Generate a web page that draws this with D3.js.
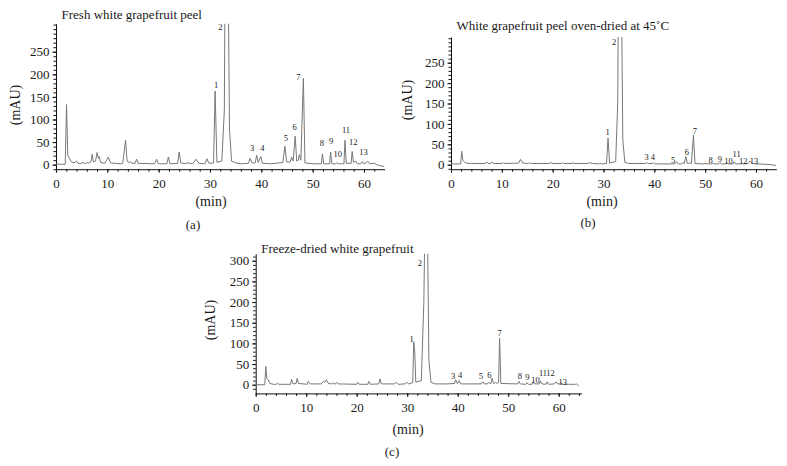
<!DOCTYPE html>
<html>
<head>
<meta charset="utf-8">
<script src="https://cdn.jsdelivr.net/npm/d3@7"></script>
<style>
  body { margin: 0; background: #fff; }
  svg text { font-family: "Liberation Serif", "DejaVu Serif", serif; fill: #1a1a1a; }
  .domain { stroke: #111; }
  .tick line { stroke: #111; }
</style>
</head>
<body>
<div id="chart"></div>
<script>
// chromatogram traces: [retention time (min), absorbance (mAU)]
// peak 2 runs off the top of every panel, so its apex is given as off-scale
var freshTrace = [
  [0,1],[1.8,1],[2.05,133],[2.3,20],[2.6,14],[3.0,6],[3.5,4],[4.0,8],[4.3,3],[5.0,3],[5.3,5],[5.6,2],
  [6.1,5],[6.4,3],[6.8,6],[7.05,23],[7.3,6],[7.7,8],[8.0,27],[8.25,14],[8.4,18],[8.7,5],[9.5,3],
  [10.2,17],[10.6,4],[12.5,2],[13.0,3],[13.55,54],[13.85,8],[14.3,4],[14.5,7],[14.8,3],[15.4,3],
  [15.7,12],[16.0,3],[19.2,2],[19.6,12],[19.9,2],[21.6,2],[21.9,17],[22.2,2],[23.7,3],[24.0,28],
  [24.3,4],[25.3,2],[25.5,4],[26.6,2],[27.3,12],[27.8,3],[29.0,2],[29.4,13],[29.8,3],[30.7,4],
  [31.0,163],[31.35,5],[32.3,8],[32.8,120],[32.9,340],[33.6,340],[33.8,80],[34.2,8],[35,4],
  [36,2],[37.5,3],[37.8,14],[38.2,4],[38.8,4],[39.1,21],[39.4,5],[39.9,18],[40.2,3],[42,2],
  [44.2,5],[44.6,41],[44.95,6],[45.6,6],[45.9,17],[46.2,8],[46.6,63],[46.9,8],[47.2,10],[47.4,22],
  [47.7,10],[48.2,191],[48.5,4],[50,2],[51.7,2],[51.9,24],[52.15,2],[53.3,2],[53.5,28],[53.75,2],
  [54.5,2],[54.7,4],[55,2],[56.1,2],[56.3,54],[56.55,3],[57.5,3],[57.7,29],[57.95,5],[58.4,8],
  [58.7,2],[59.4,2],[59.7,7],[60.0,2],[60.4,4],[60.7,8],[61.1,2],[62.1,3],[62.5,0],[63,-2],[64,-4]
];
var ovenTrace = [
  [0,2],[1.9,2],[2.1,33],[2.35,10],[2.6,7],[3.0,4],[4,3],[6.8,3],[7.0,7],[7.3,3],[7.8,3],[8.0,7],
  [8.3,3],[10.1,3],[10.3,5],[10.6,3],[13.3,4],[13.7,13],[14.1,4],[15.3,3],[15.5,5],[15.8,3],
  [19.4,3],[19.6,6],[19.9,3],[21.7,3],[21.9,5],[22.2,3],[23.8,3],[24.0,5],[24.3,3],[26.8,3],
  [27.3,5],[27.8,3],[29.1,2],[29.3,4],[29.6,2],[30.6,3],[30.9,65],[31.2,4],[32.4,8],[32.8,150],
  [32.9,340],[33.6,340],[33.8,60],[34.2,6],[35,3],[38.3,3],[38.5,5],[38.8,3],[39.6,3],[39.8,5],
  [40.1,2],[43.9,2],[44.4,7],[44.7,2],[45.4,2],[45.6,5],[45.9,3],[46.2,20],[46.5,3],[46.8,3],
  [47.0,5],[47.3,3],[47.7,73],[48.0,3],[49.5,2],[50,3],[50.5,2],[51.3,2],[51.5,4],[51.8,2],
  [52.7,2],[52.9,5],[53.2,2],[54.0,2],[54.2,5],[54.5,2],[55.5,2],[55.7,7],[56.0,2],[57.0,2],
  [57.2,4],[57.5,2],[58.4,3],[58.8,9],[59.3,3],[60,2],[62,1],[63,0],[64,-2]
];
var freezeTrace = [
  [0,0],[1.8,0],[2.0,44],[2.2,15],[2.5,12],[2.8,3],[3.5,1],[4.1,1],[4.3,4],[4.6,1],[6.9,1],
  [7.1,13],[7.4,2],[8.0,3],[8.2,15],[8.5,3],[10.2,1],[10.4,8],[10.8,2],[13.0,2],[13.4,8],[13.7,6],
  [14.0,12],[14.4,3],[15.0,2],[15.2,4],[15.5,2],[15.8,2],[16.0,6],[16.3,2],[20.0,1],[20.2,6],
  [20.5,1],[22.2,1],[22.4,8],[22.7,1],[24.4,2],[24.6,14],[24.9,2],[27.5,2],[27.8,6],[28.2,1],
  [29.6,2],[29.9,6],[30.3,2],[31.1,5],[31.3,104],[31.5,80],[31.7,6],[32.8,10],[33.3,200],
  [33.45,340],[34.05,340],[34.3,60],[34.7,6],[35.5,2],[38,2],[39.4,3],[39.6,12],[39.9,3],[40.1,4],
  [40.3,10],[40.6,2],[44.7,2],[45.0,7],[45.3,2],[45.9,2],[46.1,6],[46.4,3],[46.6,3],[46.8,16],
  [47.1,3],[47.3,3],[47.5,6],[47.8,3],[48.1,5],[48.3,112],[48.55,3],[51.9,2],[52.1,8],[52.4,2],
  [53.5,1],[53.7,5],[54.0,1],[54.7,1],[54.9,7],[55.2,2],[56.2,2],[56.4,9],[56.7,2],[57.5,1],
  [57.7,7],[58.0,1],[59.2,2],[59.5,7],[59.8,2],[60.2,2],[60.4,5],[60.7,1],[62,1],[63.3,1],
  [63.5,2],[64,-3]
];

// peak numbers: [label, time (min), height of label (mAU)]
var freshPeaks = [["1",31.2,176],["2",32.0,305],["3",38.2,37],["4",40.2,37],["5",44.8,60],["6",46.5,84],
  ["7",47.2,193],["8",51.8,47],["9",53.6,53],["10",54.9,24],["11",56.5,77],["12",57.9,50],["13",59.9,29]];
var ovenPeaks = [["1",30.8,80],["2",32.1,301],["3",38.5,20],["4",39.7,20],["5",43.7,11],["6",46.4,31],
  ["7",48.0,83],["8",51.1,11],["9",52.9,13],["10",54.6,10],["11",56.2,26],["12",57.5,10],["13",59.6,10]];
var freezePeaks = [["1",30.9,110],["2",32.5,295],["3",39.1,22],["4",40.5,23],["5",44.6,20],["6",46.3,23],
  ["7",48.3,124],["8",52.3,22],["9",53.8,19],["10",55.4,11],["11",56.9,29],["12",58.4,29],["13",60.8,7]];

var xTicks = [0, 10, 20, 30, 40, 50, 60];
var freshYTicks = [0, 50, 100, 150, 200, 250];
var ovenYTicks = [0, 50, 100, 150, 200, 250];
var freezeYTicks = [0, 50, 100, 150, 200, 250, 300];

var titles = ["Fresh white grapefruit peel", "White grapefruit peel oven-dried at 45\u02daC", "Freeze-dried white grapefruit"];
var panelTags = ["(a)", "(b)", "(c)"];

var svg = d3.select('#chart').append('svg')
  .attr('width', 787)
  .attr('height', 466);

// panel frames: where each plot sits on the page
var panels = [
  {left: 56, right: 384.5, xMax: 64, top: 23.7, bottom: 169.2, yMin: -10, yMax: 312,
   trace: freshTrace, peaks: freshPeaks, yTicks: freshYTicks, titleY: 18.5, unitX: 15, unitY: 105,
   minX: 211, minY: 206, tagX: 193, tagY: 229},
  {left: 451, right: 776.3, xMax: 64, top: 37, bottom: 169.2, yMin: -11, yMax: 313,
   trace: ovenTrace, peaks: ovenPeaks, yTicks: ovenYTicks, titleY: 29.5, unitX: 407, unitY: 100,
   minX: 602, minY: 206, tagX: 588, tagY: 227},
  {left: 255.7, right: 581.4, xMax: 64.5, top: 253.7, bottom: 393.4, yMin: -21, yMax: 317,
   trace: freezeTrace, peaks: freezePeaks, yTicks: freezeYTicks, titleY: 252.5, unitX: 210, unitY: 320,
   minX: 408, minY: 434, tagX: 392, tagY: 456}
];

panels.forEach(function(p, i) {
  var x = d3.scaleLinear().domain([0, p.xMax]).range([p.left, p.right]);
  var y = d3.scaleLinear().domain([p.yMin, p.yMax]).range([p.bottom, p.top]);
  var g = svg.append('g');

  g.append('clipPath').attr('id', 'clip' + i)
    .append('rect')
    .attr('x', p.left).attr('y', p.top)
    .attr('width', p.right - p.left).attr('height', p.bottom - p.top);

  // minor ticks first, then the labelled axis on top
  g.append('g')
    .attr('transform', `translate(0, ${p.bottom})`)
    .call(d3.axisBottom(x).tickValues(d3.range(0, p.xMax, 2)).tickSize(2.5).tickFormat(''))
    .call(s => s.select('.domain').remove());
  g.append('g')
    .attr('transform', `translate(${p.left}, 0)`)
    .call(d3.axisLeft(y).tickValues(d3.range(-10, p.yMax, 10)).tickSize(2.5).tickFormat(''))
    .call(s => s.select('.domain').remove());

  g.append('g')
    .attr('transform', `translate(0, ${p.bottom})`)
    .call(d3.axisBottom(x).tickValues(xTicks).tickSize(3.5).tickPadding(6).tickSizeOuter(0))
    .attr('font-family', null)
    .call(s => s.selectAll('text').style('font-size', '13px'));
  g.append('g')
    .attr('transform', `translate(${p.left}, 0)`)
    .call(d3.axisLeft(y).tickValues(p.yTicks).tickSize(3.5).tickPadding(3).tickSizeOuter(0))
    .attr('font-family', null)
    .call(s => s.selectAll('text').style('font-size', '13px'));

  var line = d3.line().x(d => x(d[0])).y(d => y(d[1]));
  g.append('path')
    .datum(p.trace)
    .attr('clip-path', `url(#clip${i})`)
    .attr('fill', 'none')
    .attr('stroke', '#787878')
    .attr('stroke-width', 1)
    .attr('stroke-linejoin', 'round')
    .attr('d', line);

  g.selectAll('.peak')
    .data(p.peaks)
    .enter()
    .append('text')
    .attr('class', 'peak')
    .attr('x', d => x(d[1]))
    .attr('y', d => y(d[2]))
    .attr('dy', '0.35em')
    .attr('text-anchor', 'middle')
    .style('font-size', '8.5px')
    .text(d => d[0]);

  g.append('text')
    .attr('x', p.left + 5.5)
    .attr('y', p.titleY)
    .style('font-size', '13px')
    .text(titles[i]);

  g.append('text')
    .attr('transform', `translate(${p.unitX}, ${p.unitY}) rotate(-90)`)
    .attr('text-anchor', 'middle')
    .attr('dy', '0.35em')
    .style('font-size', '14px')
    .text('(mAU)');

  g.append('text')
    .attr('x', p.minX)
    .attr('y', p.minY)
    .attr('text-anchor', 'middle')
    .style('font-size', '14px')
    .text('(min)');

  g.append('text')
    .attr('x', p.tagX)
    .attr('y', p.tagY)
    .attr('text-anchor', 'middle')
    .style('font-size', '13px')
    .text(panelTags[i]);
});
</script>
</body>
</html>
